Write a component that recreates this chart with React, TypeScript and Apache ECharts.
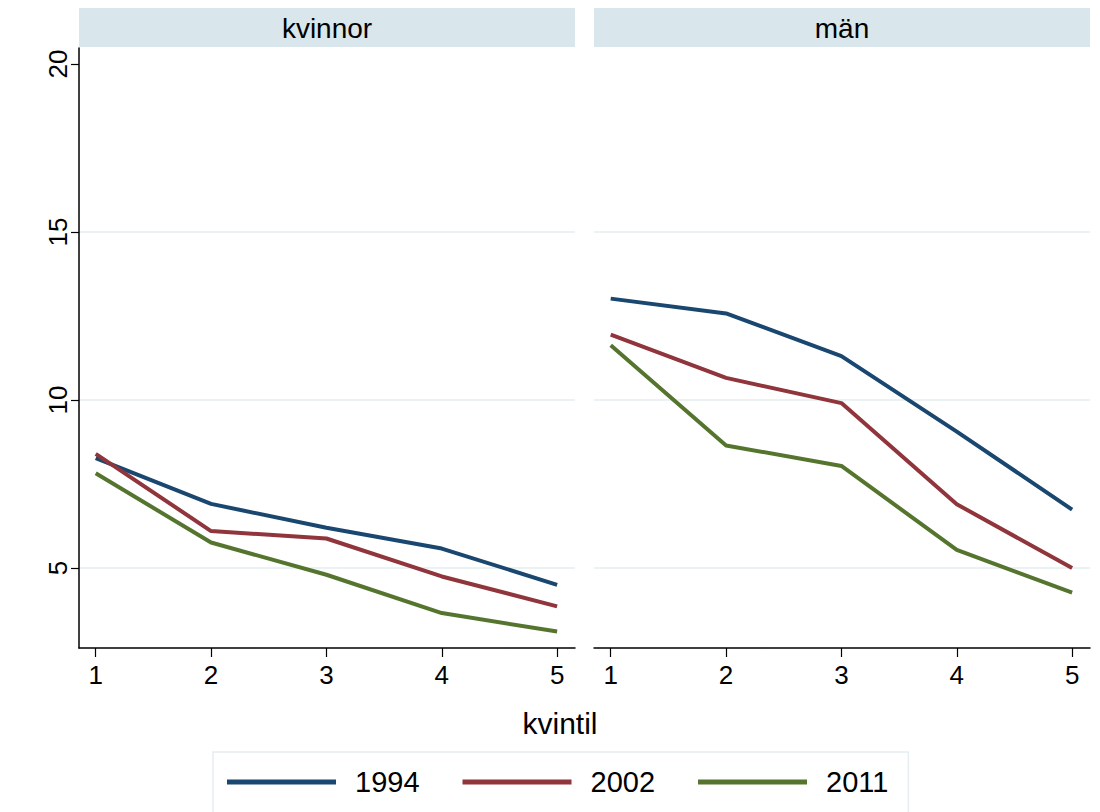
import React, { useEffect, useRef } from "react";
import * as echarts from "echarts";

const quintiles = [1, 2, 3, 4, 5];
const years = ["1994", "2002", "2011"];
const panels = ["kvinnor", "män"];
const kvinnor1994 = [8.27, 6.91, 6.2, 5.58, 4.5];
const kvinnor2002 = [8.4, 6.1, 5.88, 4.75, 3.86];
const kvinnor2011 = [7.82, 5.76, 4.8, 3.66, 3.11];
const man1994 = [13.02, 12.58, 11.31, 9.06, 6.74];
const man2002 = [11.95, 10.66, 9.91, 6.9, 5.0];
const man2011 = [11.63, 8.65, 8.04, 5.54, 4.27];
const yTicks = [5, 10, 15, 20];
const gridValues = [5, 10, 15];
const colors = ["#1a476f", "#90353b", "#55752f"];

const FONT = "Liberation Sans, Arial, sans-serif";

export default function App() {
  const ref = useRef<HTMLDivElement>(null);
  useEffect(() => {
    if (!ref.current) return;
    const chart = echarts.init(ref.current, null, { renderer: "svg" });
    const panelData = [
      [kvinnor1994, kvinnor2002, kvinnor2011],
      [man1994, man2002, man2011],
    ];
    const grids = [
      { left: 79, top: 48, width: 496, height: 600 },
      { left: 594, top: 48, width: 496, height: 600 },
    ];
    const xAxes = grids.map((_, i) => ({
      type: "value",
      gridIndex: i,
      min: 0.855,
      max: 5.155,
      axisLine: { show: true, onZero: false, lineStyle: { color: "#000", width: 1.5 } },
      axisTick: { show: true, length: 9, customValues: quintiles, lineStyle: { color: "#000", width: 1.2 } },
      axisLabel: { customValues: quintiles, fontSize: 26, color: "#000", fontFamily: FONT, margin: 14 },
      splitLine: { show: false },
    }));
    const yAxes = grids.map((_, i) => ({
      type: "value",
      gridIndex: i,
      min: 2.62,
      max: 20.48,
      axisLine: { show: i === 0, lineStyle: { color: "#000", width: 1.5 } },
      axisTick: { show: i === 0, length: 8, customValues: yTicks, lineStyle: { color: "#000", width: 1.2 } },
      axisLabel: {
        show: i === 0,
        customValues: yTicks,
        rotate: 90,
        fontSize: 26,
        color: "#000",
        fontFamily: FONT,
        margin: 8,
      },
      splitLine: { show: false },
    }));
    const series: any[] = [];
    panelData.forEach((sets, p) => {
      series.push({
        name: "grid" + p,
        type: "line",
        xAxisIndex: p,
        yAxisIndex: p,
        data: [],
        z: 0,
        silent: true,
        markLine: {
          silent: true,
          z: 0,
          symbol: "none",
          label: { show: false },
          lineStyle: { color: "#eaf2f4", width: 2, type: "solid" },
          data: gridValues.map((v) => ({ yAxis: v })),
        },
      });
      sets.forEach((vals, k) => {
        series.push({
          name: years[k],
          type: "line",
          xAxisIndex: p,
          yAxisIndex: p,
          symbol: "none",
          z: 3,
          lineStyle: { color: colors[k], width: 4 },
          itemStyle: { color: colors[k] },
          data: quintiles.map((q, j) => [q, vals[j]]),
        });
      });
    });
    chart.setOption({
      animation: false,
      backgroundColor: "#fff",
      grid: grids,
      xAxis: xAxes,
      yAxis: yAxes,
      series,
      legend: {
        data: years,
        left: 213,
        top: 752,
        padding: [14, 20, 18, 14],
        borderColor: "#e6eef1",
        borderWidth: 1.5,
        icon: "rect",
        itemWidth: 109,
        itemHeight: 5,
        itemGap: 43,
        textStyle: {
          fontSize: 29,
          color: "#000",
          fontFamily: FONT,
          padding: [0, 0, 0, 14],
          lineHeight: 32,
        },
      },
      graphic: [
        ...grids.map((g) => ({
          type: "rect",
          shape: { x: g.left, y: 8, width: g.width, height: 39 },
          style: { fill: "#d9e6eb" },
          silent: true,
        })),
        ...grids.map((g, i) => ({
          type: "text",
          x: g.left + g.width / 2,
          y: 28,
          style: {
            text: panels[i],
            fontSize: 28,
            fill: "#000",
            fontFamily: FONT,
            align: "center",
            verticalAlign: "middle",
          },
        })),
        {
          type: "text",
          x: 560,
          y: 723,
          style: {
            text: "kvintil",
            fontSize: 30,
            fill: "#000",
            fontFamily: FONT,
            align: "center",
            verticalAlign: "middle",
          },
        },
      ],
    });
    return () => chart.dispose();
  }, []);
  return (
    <div
      ref={ref}
      style={{ position: "absolute", left: 0, top: 0, width: 1100, height: 812 }}
    />
  );
}
